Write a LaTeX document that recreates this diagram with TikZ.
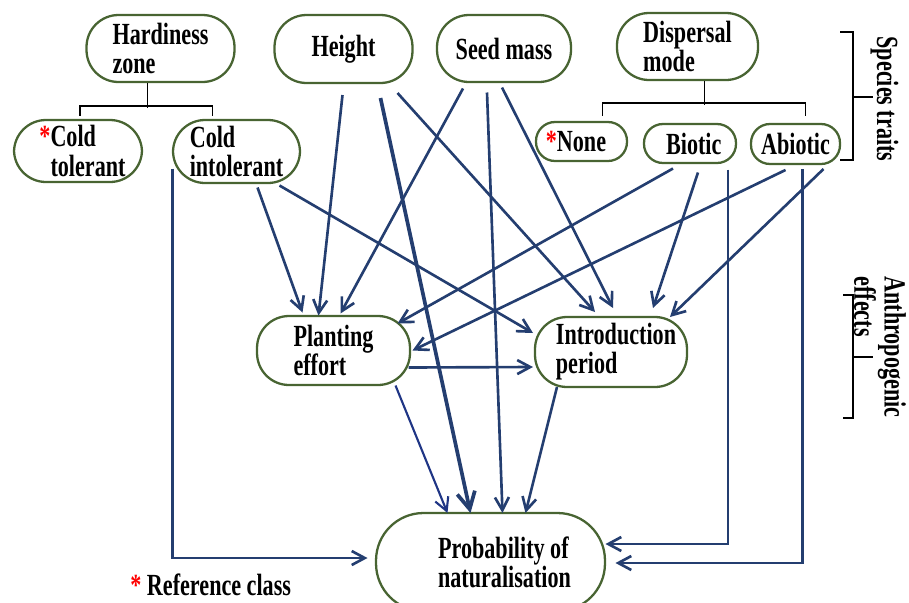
\documentclass[tikz,border=0pt]{standalone}
\usepackage{fontspec}
\setmainfont{Liberation Serif}
\newfontfamily\labfont[FakeStretch=0.72]{Liberation Serif}
\usetikzlibrary{arrows.meta,calc,positioning}
\definecolor{cbox}{RGB}{72,100,50}
\definecolor{carr}{RGB}{36,62,112}
\tikzset{
  trait/.style={rectangle,rounded corners=0.64cm,draw=cbox,line width=1.3pt,
    align=left,inner xsep=2pt,inner ysep=0pt,
    font=\labfont\fontsize{17.5}{16.6}\selectfont\bfseries},
  level/.style={trait,rounded corners=0.38cm},
  arr/.style={-{Straight Barb[length=2.6mm,width=2.8mm]},carr,line width=1.5pt},
  bigarr/.style={arr,line width=2.1pt,-{Straight Barb[length=3.4mm,width=3.6mm]}},
  thinarr/.style={arr,line width=1.2pt,carr!85!blue},
  brk/.style={line width=1.1pt,black},
  sidelab/.style={font=\labfont\fontsize{17.5}{15}\selectfont\bfseries,rotate=-90,align=left,inner sep=0pt}
}
\newcommand{\refstar}{\textcolor{red}{*}}
\begin{document}
\begin{tikzpicture}[x=0.02cm,y=-0.02cm]
  \useasboundingbox (0,0) rectangle (909,602);
  % species traits
  \node[trait,minimum width=2.96cm,minimum height=1.34cm] (hz) at (160.5,48.5) {Hardiness\\zone};
  \node[trait,minimum width=2.76cm,minimum height=1.36cm] (ht) at (343.5,49) {Height};
  \node[trait,minimum width=2.68cm,minimum height=1.34cm] (sm) at (504,48.5) {Seed mass};
  \node[trait,minimum width=2.82cm,minimum height=1.34cm] (dm) at (687.5,46.5) {Dispersal\\mode};
  \node[trait,minimum width=2.56cm,minimum height=1.24cm] (ct) at (78,151) {\hspace*{0.4cm}\llap{\refstar}Cold\\\hspace*{0.4cm}tolerant};
  \node[trait,minimum width=2.54cm,minimum height=1.26cm] (ci) at (236.5,151.5) {Cold\\intolerant};
  \node[level,minimum width=1.82cm,minimum height=0.78cm] (none) at (581.5,141.5) {\llap{\refstar}None};
  \node[level,minimum width=1.84cm,minimum height=0.78cm] (bio) at (690,143.5) {\hspace*{0.15cm}Biotic};
  \node[level,minimum width=1.78cm,minimum height=0.80cm] (abio) at (795.5,144) {Abiotic};
  % anthropogenic effects and response
  \node[trait,minimum width=3.06cm,minimum height=1.38cm] (pe) at (333.5,350.5) {Planting\\effort};
  \node[trait,minimum width=3.04cm,minimum height=1.40cm] (ip) at (611,352) {\hspace*{0.2cm}Introduction\\\hspace*{0.2cm}period};
  \node[trait,rounded corners=0.95cm,minimum width=4.58cm,minimum height=1.96cm] (pn) at (490.5,562) {\hspace*{0.56cm}Probability of\\\hspace*{0.56cm}naturalisation};
  % class brackets
  \draw[brk] ($(ct.north)+(2,-3)$) -- ++(0,-10) -| ($(ci.north)+(-24,-3)$);
  \draw[brk] ($(hz.south)+(-13,0)$) -- ++(0,25);
  \draw[brk] ($(none.north)+(21,-5)$) -- ++(0,-13) -| ($(abio.north)+(10,-7)$);
  \draw[brk] ($(dm.south)+(17,0)$) -- ++(0,24);
  % side brackets
  \draw[brk] (840,32) -- (853,32) -- (853,160) -- (840,160);
  \draw[brk] (853,97) -- (873,97);
  \draw[brk] (843,295) -- (853,295) -- (853,418) -- (843,418);
  \draw[brk] (853,357) -- (873,357);
  \node[sidelab] (st) at (884.5,99) {Species traits};
  \node[sidelab] (ae) at (880,347) {Anthropogenic\\effects};
  \node[font=\labfont\fontsize{17.5}{16.6}\selectfont\bfseries] (rc) at (219,585) {\llap{\refstar\ }Reference class};
  % effects on planting effort
  \draw[arr] ($(ci.center)+(21,36)$) -- ($(pe.center)+(-31,-38)$);
  \draw[arr] ($(ht.center)+(-1,46)$) -- ($(pe.center)+(-15,-35)$);
  \draw[arr] ($(sm.center)+(-41,40)$) -- ($(pe.center)+(7,-37)$);
  \draw[arr] ($(bio.center)+(-17,25)$) -- ($(pe.center)+(64,-27)$);
  \draw[arr] ($(abio.center)+(-10,26)$) -- ($(pe.center)+(79,0)$);
  % effects on introduction period
  \draw[arr] ($(ci.center)+(43,34)$) -- ($(ip.center)+(-78,-19)$);
  \draw[arr] ($(ht.center)+(54,44)$) -- ($(ip.center)+(-16,-40)$);
  \draw[arr] ($(sm.center)+(-2,39)$) -- ($(ip.center)+(2,-44)$);
  \draw[arr] ($(bio.center)+(8,29)$) -- ($(ip.center)+(42,-44)$);
  \draw[arr] ($(abio.center)+(28,25)$) -- ($(ip.center)+(59,-35)$);
  \draw[arr] ($(pe.center)+(75,17)$) -- ($(ip.center)+(-78,15)$);
  % effects on probability of naturalisation
  \draw[thinarr] ($(pe.center)+(62,35)$) -- ($(pn.center)+(-43,-49)$);
  \draw[bigarr] ($(ht.center)+(37,49)$) -- ($(pn.center)+(-20,-49)$);
  \draw[arr] ($(sm.center)+(-17,44)$) -- ($(pn.center)+(12,-49)$);
  \draw[arr] ($(ip.center)+(-54,35)$) -- ($(pn.center)+(35,-49)$);
  \draw[arr] ($(ci.center)+(-64,17)$) |- ($(pn.center)+(-123,-4)$);
  \draw[arr] ($(bio.center)+(38,26)$) |- ($(pn.center)+(115,-18)$);
  \draw[arr] ($(abio.center)+(7,25)$) |- ($(pn.center)+(125,1)$);
\end{tikzpicture}
\end{document}
